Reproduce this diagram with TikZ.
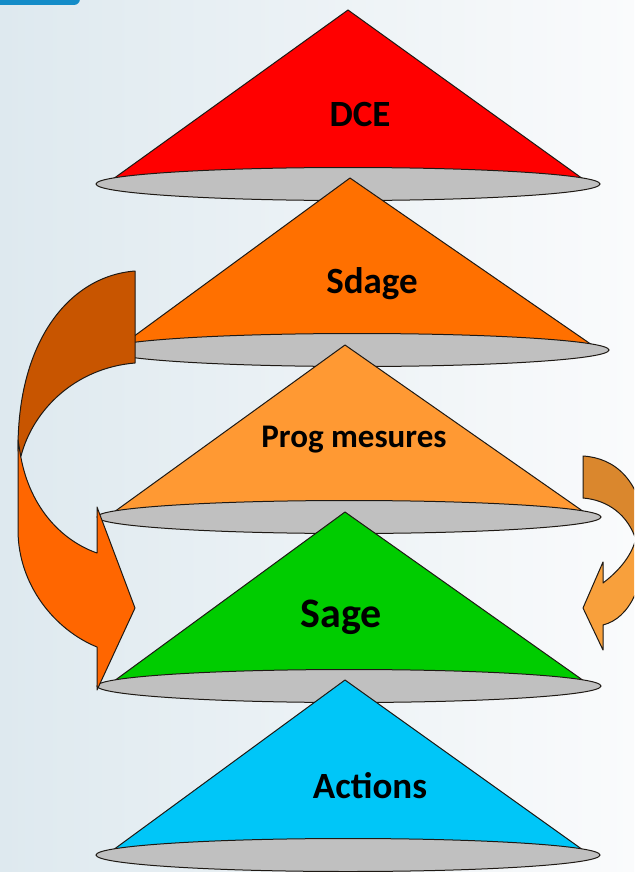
\documentclass[tikz,border=0pt]{standalone}
\usepackage{fontspec}
\setmainfont{Carlito}
\definecolor{bgL}{RGB}{222,233,239}
\definecolor{bgR}{RGB}{250,251,252}
\definecolor{tabBlue}{RGB}{20,140,200}
\definecolor{lineC}{RGB}{30,25,20}
\definecolor{coneGray}{RGB}{192,192,192}
\definecolor{cRed}{RGB}{255,0,0}
\definecolor{cOrange}{RGB}{255,112,0}
\definecolor{cLightOr}{RGB}{255,153,51}
\definecolor{cGreen}{RGB}{0,204,0}
\definecolor{cCyan}{RGB}{0,198,248}
\definecolor{laDark}{RGB}{200,85,0}
\definecolor{laLight}{RGB}{255,102,0}
\definecolor{raDark}{RGB}{218,135,45}
\definecolor{raLight}{RGB}{248,160,60}
\newcommand\mycone[5]{%
  \filldraw[fill=#5, draw=lineC, line width=1pt, line join=round]
    (#1,#2) -- ({#3-233.6},{#4-6}) -- ({#3+233.6},{#4-6}) -- cycle;
  \filldraw[fill=coneGray, draw=lineC, line width=1pt]
    (#3,#4) ellipse [x radius=252pt, y radius=16.5pt];
}
\tikzset{
  lbl/.style={font=\fontsize{37}{42}\selectfont\bfseries, text=black, anchor=base, inner sep=0pt},
  arrowpart/.style={draw=lineC, line width=1pt, line join=round}
}
\begin{document}
\begin{tikzpicture}[x=1pt,y=-1pt]
\useasboundingbox (0,0) rectangle (634,872);
\clip (0,0) rectangle (634,872);
\shade[left color=bgL, right color=bgR] (0,0) rectangle (634,872);
\fill[tabBlue, rounded corners=6pt] (-10,-10) rectangle (80,5);
% cones
\mycone{348}{10}{348}{184}{cRed}
\mycone{350}{178}{357}{350}{cOrange}
\mycone{345}{345}{349}{517}{cLightOr}
\mycone{345}{512}{349}{686}{cGreen}
\mycone{345}{680}{348}{855}{cCyan}
% labels
\node[lbl] (dce) at (360,127) {DCE};
\node[lbl] (sdage) at (372,293) {Sdage};
\node[lbl, font=\fontsize{33}{38}\selectfont\bfseries] (prog) at (354,447) {Prog mesures};
\node[lbl, font=\fontsize{42}{46}\selectfont\bfseries] (sage) at (341,627) {Sage};
\node[lbl] (actions) at (370,798) {Actions};
% left curved arrow (Sdage -> Sage)
\coordinate (lstartT) at (135,271);
\coordinate (lstartB) at (135,363);
\coordinate (ltip) at (97,690);
\filldraw[arrowpart, fill=laDark]
  (lstartT) -- (lstartB) .. controls (75,368) and (33,410) .. (21,456)
  .. controls (19,454) and (18,452) .. (18,448) .. controls (18,340) and (70,276) .. (lstartT) -- cycle;
\filldraw[arrowpart, fill=laLight]
  (18,440) -- (18,530) .. controls (18,585) and (55,630) .. (97,647)
  -- (ltip) -- (135,608) -- (97,507) -- (97,553)
  .. controls (60,540) and (28,505) .. (20,452) -- cycle;
% right curved arrow (Prog mesures -> Sage)
\coordinate (rstartT) at (583,456);
\coordinate (rstartB) at (583,498);
\coordinate (rtip) at (603,650);
\filldraw[arrowpart, fill=raDark]
  (rstartT) -- (rstartB) .. controls (608,500) and (628,515) .. (636,540)
  -- (646,535) .. controls (642,480) and (615,458) .. (rstartT) -- cycle;
\filldraw[arrowpart, fill=raLight]
  (646,530) .. controls (646,585) and (630,618) .. (603,625)
  -- (rtip) -- (583,608) -- (603,562) -- (603,583)
  .. controls (620,570) and (632,555) .. (636,538) -- cycle;
\end{tikzpicture}
\end{document}
